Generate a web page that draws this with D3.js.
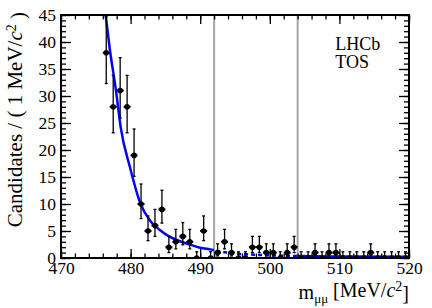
<!DOCTYPE html>
<html>
<head>
<meta charset="utf-8">
<script src="https://cdn.jsdelivr.net/npm/d3@7"></script>
<style>
	body { margin: 0; background: #fff; }
	svg text { font-family: "Liberation Serif", "DejaVu Serif", serif; fill: #000; }
</style>
</head>
<body>
<div id="chart"></div>
<script>
	// bin centres (1 MeV bins) and candidate counts
	var binCentres = [476.5, 477.5, 478.5, 479.5, 480.5, 481.5, 482.5, 483.5, 484.5, 485.5,
		486.5, 487.5, 488.5, 489.5, 490.5, 491.5, 492.5, 493.5, 494.5, 495.5,
		496.5, 497.5, 498.5, 499.5, 500.5, 501.5, 502.5, 503.5, 504.5, 505.5,
		506.5, 507.5, 508.5, 509.5, 510.5, 511.5, 512.5, 513.5, 514.5, 515.5,
		516.5, 517.5, 518.5, 519.5];
	var counts = [38, 28, 31, 28, 19, 10, 5, 6, 9, 2,
		3, 4, 3, 0, 5, 0, 1, 3, 1, 0,
		0, 2, 2, 1, 1, 0, 1, 2, 0, 0,
		1, 0, 1, 1, 0, 0, 0, 0, 1, 0,
		0, 0, 0, 0];

	// fitted background curve
	var fitX = [476.0, 476.42, 477.0, 477.9, 478.58, 479.91, 481.35, 482.8, 484.2, 485.66,
		487.0, 488.5, 490.0, 491.4, 493.8, 497.0, 500.0, 504.0, 510.0, 520.0];
	var fitY = [49, 45, 38.8, 31, 24.2, 16.8, 10.3, 6.9, 5.2, 3.9,
		3.15, 2.5, 1.9, 1.6, 1.0, 0.65, 0.5, 0.35, 0.28, 0.22];

	// signal window boundaries
	var windowLines = [492, 504];

	var xTicks = [470, 480, 490, 500, 510, 520];
	var yTicks = [0, 5, 10, 15, 20, 25, 30, 35, 40, 45];

	var ext_width = 432, ext_height = 308;
	var margin = { top: 15, right: 23, bottom: 50, left: 61 };
	var width = ext_width - margin.left - margin.right;
	var height = ext_height - margin.top - margin.bottom;

	var x = d3.scaleLinear().domain([470, 520]).range([0, width]);
	var y = d3.scaleLinear().domain([0, 45]).range([height, 0]);

	var svg = d3.select("#chart").append("svg")
		.attr("width", ext_width)
		.attr("height", ext_height);

	svg.append("defs").append("clipPath")
		.attr("id", "frame")
		.append("rect")
		.attr("width", width)
		.attr("height", height);

	var g = svg.append("g")
		.attr("transform", "translate(" + margin.left + "," + margin.top + ")");

	// vertical window lines
	g.selectAll(".window")
		.data(windowLines)
		.enter().append("line")
		.attr("class", "window")
		.attr("x1", function (d) { return x(d); })
		.attr("x2", function (d) { return x(d); })
		.attr("y1", 0)
		.attr("y2", height)
		.style("stroke", "#a6a6a6")
		.style("stroke-width", 2);

	// fit curve: solid outside the window, dashed inside
	var fitData = fitX.map(function (v, i) { return [v, fitY[i]]; });
	var line = d3.line()
		.x(function (d) { return x(d[0]); })
		.y(function (d) { return y(d[1]); })
		.curve(d3.curveMonotoneX);

	var curveG = g.append("g").attr("clip-path", "url(#frame)");
	var clipParts = [
		{ from: 470, to: windowLines[0], dash: null },
		{ from: windowLines[0], to: windowLines[1], dash: "4,3" },
		{ from: windowLines[1], to: 520, dash: null }
	];
	clipParts.forEach(function (p, i) {
		svg.select("defs").append("clipPath")
			.attr("id", "part" + i)
			.append("rect")
			.attr("x", x(p.from))
			.attr("y", -20)
			.attr("width", x(p.to) - x(p.from))
			.attr("height", height + 40);
		curveG.append("g")
			.attr("clip-path", "url(#part" + i + ")")
			.append("path")
			.datum(fitData)
			.attr("d", line)
			.style("fill", "none")
			.style("stroke", "#0000ff")
			.style("stroke-width", 2.5)
			.style("stroke-dasharray", p.dash);
	});

	// data points with poisson-like error bars
	var points = binCentres.map(function (c, i) {
		var n = counts[i];
		var lo = n > 0 ? Math.sqrt(n + 0.25) - 0.5 : 0;
		var hi = n > 0 ? Math.sqrt(n + 0.25) + 0.5 : 1.15;
		return { x: c, n: n, lo: n - lo, hi: n + hi };
	});

	var pts = g.append("g").attr("clip-path", "url(#frame)")
		.selectAll(".pt")
		.data(points)
		.enter().append("g")
		.attr("class", "pt");

	pts.append("line")
		.attr("x1", function (d) { return x(d.x); })
		.attr("x2", function (d) { return x(d.x); })
		.attr("y1", function (d) { return y(d.lo); })
		.attr("y2", function (d) { return y(d.hi); })
		.style("stroke", "#000")
		.style("stroke-width", 1.3);
	pts.append("line")
		.attr("x1", function (d) { return x(d.x) - 1.5; })
		.attr("x2", function (d) { return x(d.x) + 1.5; })
		.attr("y1", function (d) { return y(d.hi); })
		.attr("y2", function (d) { return y(d.hi); })
		.style("stroke", "#000")
		.style("stroke-width", 1.3);
	pts.append("line")
		.attr("x1", function (d) { return x(d.x) - 1.5; })
		.attr("x2", function (d) { return x(d.x) + 1.5; })
		.attr("y1", function (d) { return y(d.lo); })
		.attr("y2", function (d) { return y(d.lo); })
		.style("stroke", "#000")
		.style("stroke-width", 1.3);
	pts.append("line")
		.attr("x1", function (d) { return x(d.x - 0.5); })
		.attr("x2", function (d) { return x(d.x + 0.5); })
		.attr("y1", function (d) { return y(d.n); })
		.attr("y2", function (d) { return y(d.n); })
		.style("stroke", "#000")
		.style("stroke-width", 2);
	pts.append("circle")
		.attr("cx", function (d) { return x(d.x); })
		.attr("cy", function (d) { return y(d.n); })
		.attr("r", 2.8)
		.style("fill", "#000");

	// axes: ticks on all four sides
	var xMinor = d3.range(470, 521, 2);
	var yMinor = d3.range(0, 46, 1);

	function addAxis(axis, tr) {
		var a = g.append("g")
			.attr("transform", tr)
			.call(axis);
		a.select(".domain").remove();
		a.selectAll("line").style("stroke", "#000").style("stroke-width", 1.3);
		return a;
	}

	addAxis(d3.axisBottom(x).tickValues(xMinor).tickSize(-4.5).tickFormat(""), "translate(0," + height + ")");
	addAxis(d3.axisBottom(x).tickValues(xTicks).tickSize(-9).tickPadding(5).tickFormat(d3.format("d")), "translate(0," + height + ")")
		.selectAll("text").style("font-size", "17.5px").attr("dy", "0.6em");
	addAxis(d3.axisTop(x).tickValues(xMinor).tickSize(-4.5).tickFormat(""), "translate(0,0)");
	addAxis(d3.axisTop(x).tickValues(xTicks).tickSize(-9).tickFormat(""), "translate(0,0)");

	addAxis(d3.axisLeft(y).tickValues(yMinor).tickSize(-5).tickFormat(""), "translate(0,0)");
	addAxis(d3.axisLeft(y).tickValues(yTicks).tickSize(-10).tickPadding(5).tickFormat(d3.format("d")), "translate(0,0)")
		.selectAll("text").style("font-size", "17.5px").attr("dy", "0.32em");
	addAxis(d3.axisRight(y).tickValues(yMinor).tickSize(-5).tickFormat(""), "translate(" + width + ",0)");
	addAxis(d3.axisRight(y).tickValues(yTicks).tickSize(-10).tickFormat(""), "translate(" + width + ",0)");

	// frame
	g.append("rect")
		.attr("width", width)
		.attr("height", height)
		.style("fill", "none")
		.style("stroke", "#000")
		.style("stroke-width", 2);

	// labels
	var yTitle = g.append("text")
		.attr("transform", "translate(" + (-39) + ",-3) rotate(-90)")
		.attr("text-anchor", "end")
		.style("font-size", "21px");
	yTitle.append("tspan").text("Candidates / ( 1 MeV/");
	yTitle.append("tspan").style("font-style", "italic").text("c");
	yTitle.append("tspan").attr("dy", "-0.45em").style("font-size", "14px").text("2");
	yTitle.append("tspan").attr("dy", "0.45em").text(" )");

	var xTitle = g.append("text")
		.attr("x", width)
		.attr("y", height + 41)
		.attr("text-anchor", "end")
		.style("font-size", "20px");
	xTitle.append("tspan").text("m");
	xTitle.append("tspan").attr("dy", "0.3em").style("font-size", "13px").text("μμ");
	xTitle.append("tspan").attr("dy", "-0.3em").text(" [MeV/");
	xTitle.append("tspan").style("font-style", "italic").text("c");
	xTitle.append("tspan").attr("dy", "-0.45em").style("font-size", "14px").text("2");
	xTitle.append("tspan").attr("dy", "0.45em").text("]");

	g.append("text")
		.attr("x", x(509.4))
		.attr("y", 35)
		.style("font-size", "18px")
		.text("LHCb");
	g.append("text")
		.attr("x", x(509.4))
		.attr("y", 53)
		.style("font-size", "18px")
		.text("TOS");
</script>
</body>
</html>
